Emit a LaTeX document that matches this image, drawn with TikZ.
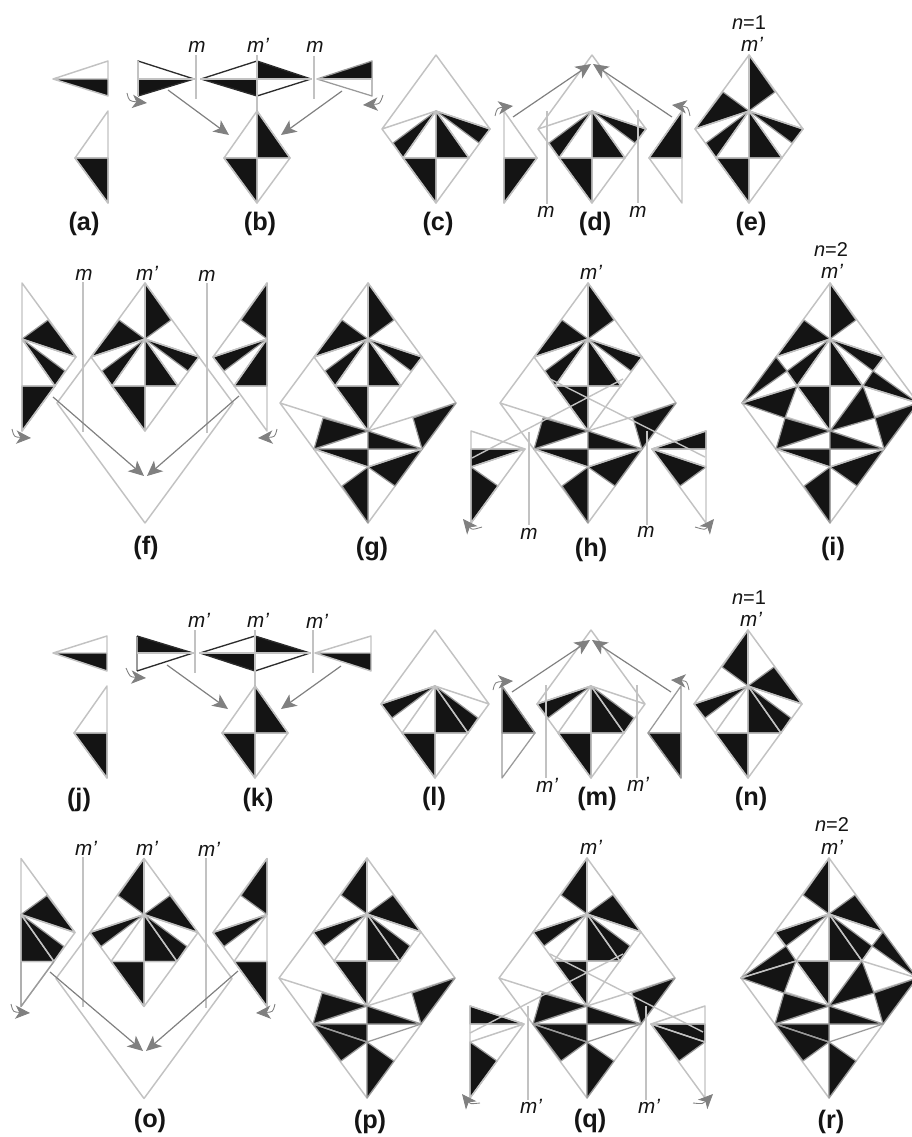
\documentclass[tikz,border=0pt]{standalone}
\usepackage{fontspec}
\setmainfont{Liberation Sans}
\usetikzlibrary{arrows.meta}
\definecolor{blk}{HTML}{141414}
\definecolor{ltg}{HTML}{C2C2C2}
\definecolor{mdg}{HTML}{9A9A9A}
\definecolor{arg}{HTML}{808080}
\tikzset{
 tile/.style={fill=blk,draw=mdg,line width=0.9pt,line join=round},
 ln/.style={draw=ltg,line width=1.1pt,line join=round},
 lnm/.style={draw=mdg,line width=0.95pt,line join=round},
 dk/.style={draw=blk!90,line width=1pt,line join=round},
 mir/.style={draw=ltg,line width=1.05pt},
 arr/.style={draw=arg,line width=0.9pt,-{Stealth[length=11.5pt,width=10.5pt,inset=3pt]}},
 carr/.style={draw=arg,line width=0.65pt,-{Stealth[length=11pt,width=10pt,inset=3pt]}},
 lbl/.style={font=\fontsize{19}{22}\selectfont\bfseries,text=blk,inner sep=0pt},
 ml/.style={font=\fontsize{15.5}{17}\selectfont\itshape,text=blk,inner sep=0pt,anchor=base,yshift=-4.2pt},
 nl/.style={font=\fontsize{15}{17}\selectfont,text=blk,inner sep=0pt,anchor=base,yshift=-5pt},
}
\newcommand\setpts{%
 \coordinate (T) at (0,-120);\coordinate (L) at (-88,0);\coordinate (R) at (88,0);\coordinate (B) at (0,120);
 \coordinate (eL) at (-54,-46);\coordinate (eR) at (54,-46);\coordinate (P) at (0,-64);\coordinate (D) at (0,28);
 \coordinate (C) at (0,-17);\coordinate (SL) at (-33,-17);\coordinate (SR) at (33,-17);
 \coordinate (UL) at (-26,-83);\coordinate (UR) at (26,-83);\coordinate (Qa) at (-43,-32);\coordinate (Qb) at (43,-32);
 \coordinate (F) at (-54,46);\coordinate (G) at (54,46);\coordinate (M) at (0,46);\coordinate (H) at (0,64);
 \coordinate (J) at (27,83);\coordinate (K) at (-26,83);\coordinate (Aa) at (-45,15);\coordinate (Ab) at (45,15);
}
\newcommand\panel[3]{\begin{scope}[shift={(#1,#2)}]\setpts #3\end{scope}}
\newcommand\tri[3]{\path[tile] (#1)--(#2)--(#3)--cycle;}
\newcommand\seg[2]{\coordinate (sa) at (#1);\coordinate (sb) at (#2);\draw[mir] (sa)--(sb);}
\newcommand\arw[2]{\coordinate (sa) at (#1);\coordinate (sb) at (#2);\draw[arr] (sa)--(sb);}
\newcommand\crv[3]{\coordinate (sa) at (#1);\coordinate (sc) at (#2);\coordinate (sb) at (#3);\draw[carr] (sa) .. controls (sc) .. (sb);}
% fills
\newcommand\efillA{\tri{SL}{C}{D}\tri{P}{C}{SR}\tri{P}{Qa}{SL}\tri{P}{eR}{Qb}}
\newcommand\eupA{\tri{P}{eL}{UL}\tri{T}{P}{UR}}
\newcommand\efillB{\tri{SL}{C}{D}\tri{P}{C}{SR}\tri{P}{Qb}{SR}\tri{P}{eL}{Qa}}
\newcommand\eupB{\tri{T}{P}{UL}\tri{P}{UR}{eR}}
\newcommand\eout{\draw[ln] (T)--(eR)--(D)--(eL)--cycle (eL)--(P)--(eR) (SL)--(P)--(SR) (SL)--(SR) (P)--(D);}
\newcommand\eaxis{\draw[ln] (T)--(P);}
% lower part of n=2 rhombi
\newcommand\biglines{\draw[ln] (eL)--(L)--(B)--(R)--(eR) (L)--(D)--(R) (D)--(B) (F)--(G) (F)--(D)--(G);}
\newcommand\lowcom{\tri{Aa}{D}{F}\tri{Ab}{R}{G}\tri{D}{M}{G}\tri{F}{M}{H}}
\newcommand\lowA{\lowcom\tri{H}{G}{J}\tri{H}{B}{K}\draw[ln] (F)--(H)--(G);}
\newcommand\lowB{\lowcom\tri{F}{H}{K}\tri{H}{J}{B}\draw[lnm] (F)--(H)--(G);}
% half pieces of the upper shape
\newcommand\halfR{\draw[ln] (T)--(eR)--(D)--cycle (P)--(eR) (P)--(SR)--(C);}
\newcommand\halfL{\draw[ln] (T)--(eL)--(D)--cycle (P)--(eL) (P)--(SL)--(C);}
\begin{document}
\begin{tikzpicture}[x=0.75pt,y=-0.75pt]
\useasboundingbox (0,0) rectangle (912,1137);
\clip (0,0) rectangle (912,1137);
%% ---------- (a)
\path[fill=blk] (53,79)--(108,79)--(108,96)--cycle;
\draw[ln] (53,79)--(108,61)--(108,96)--cycle (53,79)--(108,79);
\panel{108}{175}{\tri{C}{SL}{D}\draw[ln] (P)--(SL)--(D)--cycle (SL)--(C);}
%% ---------- (b) strip
\path[fill=blk] (138,79)--(194,79)--(138,96)--cycle;
\draw[dk] (138,79)--(138,61)--(194,79)--(138,96);
\draw[ln] (138,61)--(138,96) (138,79)--(194,79);
\path[fill=blk] (201,79)--(257,79)--(257,96)--cycle (257,61)--(311,79)--(257,79)--cycle;
\draw[dk] (201,79)--(257,61)--(311,79)--(257,96)--cycle;
\draw[ln] (201,79)--(311,79);
\path[fill=blk] (317,79)--(372,79)--(372,61)--cycle;
\draw[lnm] (317,79)--(372,61)--(372,96)--cycle;
\draw[ln] (317,79)--(372,79);
\seg{196,55}{196,99}\seg{314,56}{314,99}\seg{257,55}{257,113}
\node[ml] (m1) at (197,47) {m};\node[ml] (m2) at (258,47) {m’};\node[ml] (m3) at (315,47) {m};
\arw{168,90}{229,135}\arw{342,91}{281,135}
\crv{127,93}{129,101}{147,103}\crv{383,95}{380,104}{363,105}
\panel{257}{175}{\tri{P}{C}{SR}\tri{SL}{C}{D}\draw[ln] (P)--(SR)--(D)--(SL)--cycle (P)--(D) (SL)--(SR);}
%% ---------- (c)
\panel{436}{175}{\efillA\eout}
%% ---------- (d)
\panel{592}{175}{\efillA\eout}
\seg{547,111}{547,204}\seg{638,110}{638,203}
\panel{504}{175}{\tri{C}{SR}{D}\draw[ln] (P)--(SR)--(D)--cycle (SR)--(C);}
\panel{682}{175}{\tri{P}{C}{SL}\draw[ln] (P)--(SL)--(D)--cycle (SL)--(C);}
\arw{513,117}{591,64}\arw{672,117}{593,64}
\crv{495,116}{497,108}{513,106}\crv{690,116}{688,107}{672,105}
\node[ml] (m4) at (546,212) {m};\node[ml] (m5) at (638,212) {m};
%% ---------- (e)
\panel{749}{175}{\efillA\eupA\eout\eaxis}
\node[nl] (n1) at (749,23) {\textit{n}=1};\node[ml] (m6) at (752,46) {m’};
%% labels row 1
\node[lbl] (la) at (84,224) {(a)};\node[lbl] (lb) at (260,224) {(b)};\node[lbl] (lc) at (438,224) {(c)};\node[lbl] (ld) at (595,224) {(d)};\node[lbl] (le) at (751,224) {(e)};
%% ---------- (f)
\panel{145}{403}{\draw[ln] (eL)--(L)--(B)--(R)--(eR);\efillA\eupA\eout\eaxis}
\seg{83,282}{83,432}\seg{207,283}{207,433}
\panel{22}{403}{\tri{P}{UR}{eR}\tri{P}{Qb}{SR}\tri{C}{SR}{D}\halfR}
\panel{267}{403}{\tri{T}{P}{UL}\tri{P}{eL}{Qa}\tri{P}{C}{SL}\halfL}
\arw{53,397}{144,476}\arw{239,396}{147,476}
\crv{12,429}{14,437}{31,438}\crv{277,429}{275,437}{258,438}
\node[ml] (m7) at (84,275) {m};\node[ml] (m8) at (147,275) {m’};\node[ml] (m9) at (207,276) {m};
%% ---------- (g)
\panel{368}{403}{\biglines\efillA\eupA\eout\eaxis\lowA}
%% ---------- (h)
\panel{588}{403}{\biglines\efillA\eupA\eout\eaxis\lowA}
\seg{529,432}{529,525}\seg{647,431}{647,525}
\panel{471}{403}{\tri{M}{G}{H}\tri{H}{B}{J}\draw[ln] (D)--(G)--(B)--cycle (G)--(M) (G)--(H);}
\panel{706}{403}{\tri{D}{M}{F}\tri{H}{F}{K}\draw[ln] (D)--(F)--(B)--cycle (F)--(M) (F)--(H);}
\seg{472,458}{623,379}\seg{550,379}{705,457}
\crv{482,527}{472,530}{463,519}\crv{695,527}{705,530}{714,519}
\node[ml] (m10) at (529,534) {m};\node[ml] (m11) at (646,532) {m};\node[ml] (m12) at (591,274) {m’};
%% ---------- (i)
\panel{830}{403}{\biglines\efillA\eupA\eout\eaxis\lowA
 \tri{eL}{L}{Qa}\tri{L}{SL}{Aa}\tri{SR}{Ab}{D}\tri{Qb}{R}{SR}\draw[ln] (SL)--(L) (SR)--(R);}
\node[nl] (n2) at (831,250) {\textit{n}=2};\node[ml] (m13) at (832,273) {m’};
\node[lbl] (lf) at (146,548) {(f)};\node[lbl] (lg) at (372,549) {(g)};\node[lbl] (lh) at (591,550) {(h)};\node[lbl] (li) at (833,549) {(i)};
%% ---------- (j)
\path[fill=blk] (53,653)--(107,653)--(107,671)--cycle;
\draw[ln] (53,653)--(107,636)--(107,671)--cycle (53,653)--(107,653);
\panel{107}{750}{\tri{C}{SL}{D}\draw[ln] (P)--(SL)--(D)--cycle (SL)--(C);}
%% ---------- (k) strip
\path[fill=blk] (137,653)--(193,653)--(137,636)--cycle;
\draw[lnm] (137,636)--(137,671);
\draw[dk] (137,671)--(193,653)--(137,636);
\draw[ln] (137,653)--(193,653);
\path[fill=blk] (200,653)--(255,653)--(255,671)--cycle (255,636)--(310,653)--(255,653)--cycle;
\draw[dk] (200,653)--(255,636)--(310,653)--(255,671)--cycle;
\draw[ln] (200,653)--(310,653);
\path[fill=blk] (315,653)--(371,653)--(371,671)--cycle;
\draw[ln] (315,653)--(371,636)--(371,671)--cycle (315,653)--(371,653);
\seg{195,630}{195,673}\seg{313,630}{313,673}\seg{255,630}{255,688}
\node[ml] (m14) at (199,622) {m’};\node[ml] (m15) at (258,622) {m’};\node[ml] (m16) at (317,623) {m’};
\arw{167,665}{228,709}\arw{341,666}{281,709}
\crv{126,668}{130,677}{146,678}
\panel{255}{750}{\tri{P}{C}{SR}\tri{SL}{C}{D}\draw[ln] (P)--(SR)--(D)--(SL)--cycle (P)--(D) (SL)--(SR);}
%% ---------- (l)
\panel{435}{750}{\efillB\eout}
%% ---------- (m)
\panel{591}{750}{\efillB\eout}
\seg{546,685}{546,778}\seg{637,685}{637,778}
\panel{502}{750}{\tri{P}{C}{SR}\draw[lnm] (P)--(SR)--(D)--cycle (SR)--(C);}
\panel{681}{750}{\tri{C}{SL}{D}\draw[lnm] (P)--(SL)--(D)--cycle (SL)--(C);}
\arw{512,692}{590,640}\arw{671,692}{592,640}
\crv{493,690}{495,682}{513,681}\crv{689,690}{687,681}{671,680}
\node[ml] (m17) at (547,787) {m’};\node[ml] (m18) at (638,786) {m’};
%% ---------- (n)
\panel{748}{750}{\efillB\eupB\eout\eaxis}
\node[nl] (n3) at (749,598) {\textit{n}=1};\node[ml] (m19) at (751,621) {m’};
\node[lbl] (lj) at (79,800) {(j)};\node[lbl] (lk) at (258,800) {(k)};\node[lbl] (ll) at (434,799) {(l)};\node[lbl] (lm) at (597,799) {(m)};\node[lbl] (lnn) at (751,799) {(n)};
%% ---------- (o)
\panel{144}{978.5}{\draw[ln] (eL)--(L)--(B)--(R)--(eR);\efillB\eupB\eout\eaxis}
\seg{83,857}{83,1007}\seg{206,858}{206,1008}
\panel{21}{978.5}{\tri{P}{UR}{eR}\tri{P}{C}{SR}\tri{P}{Qb}{SR}\halfR\draw[lnm] (SR)--(D)--(C);}
\panel{267}{978.5}{\tri{T}{P}{UL}\tri{P}{eL}{Qa}\tri{SL}{C}{D}\halfL}
\arw{50,972}{143,1051}\arw{238,971}{146,1051}
\crv{11,1004}{13,1012}{30,1013}\crv{275,1004}{273,1012}{256,1013}
\node[ml] (m20) at (86,850) {m’};\node[ml] (m21) at (147,850) {m’};\node[ml] (m22) at (209,851) {m’};
%% ---------- (p)
\panel{367}{978}{\biglines\efillB\eupB\eout\eaxis\lowB}
%% ---------- (q)
\panel{587}{978}{\biglines\efillB\eupB\eout\eaxis\lowB}
\seg{528,1006}{528,1100}\seg{646,1006}{646,1100}
\panel{470}{978}{\tri{D}{M}{G}\tri{H}{B}{J}\draw[ln] (D)--(G)--(B)--cycle (G)--(M) (G)--(H);}
\panel{705}{978}{\tri{F}{M}{H}\tri{F}{H}{K}\draw[ln] (D)--(F)--(B)--cycle (F)--(M) (F)--(H);}
\seg{470,1033}{623,954}\seg{550,954}{703,1032}
\crv{480,1103}{470,1104}{462,1094}\crv{693,1103}{703,1104}{713,1094}
\node[ml] (m23) at (531,1108) {m’};\node[ml] (m24) at (649,1108) {m’};\node[ml] (m25) at (591,849) {m’};
%% ---------- (r)
\panel{829}{978}{\biglines\efillB\eupB\eout\eaxis\lowB
 \tri{Qa}{SL}{L}\tri{L}{SL}{Aa}\tri{SR}{Ab}{D}\tri{eR}{R}{Qb}\draw[ln] (SL)--(L) (SR)--(R);}
\node[nl] (n4) at (832,825) {\textit{n}=2};\node[ml] (m26) at (832,849) {m’};
\node[lbl] (lo) at (150,1121) {(o)};\node[lbl] (lp) at (370,1122) {(p)};\node[lbl] (lq) at (590,1121) {(q)};\node[lbl] (lr) at (831,1122) {(r)};
\end{tikzpicture}
\end{document}
